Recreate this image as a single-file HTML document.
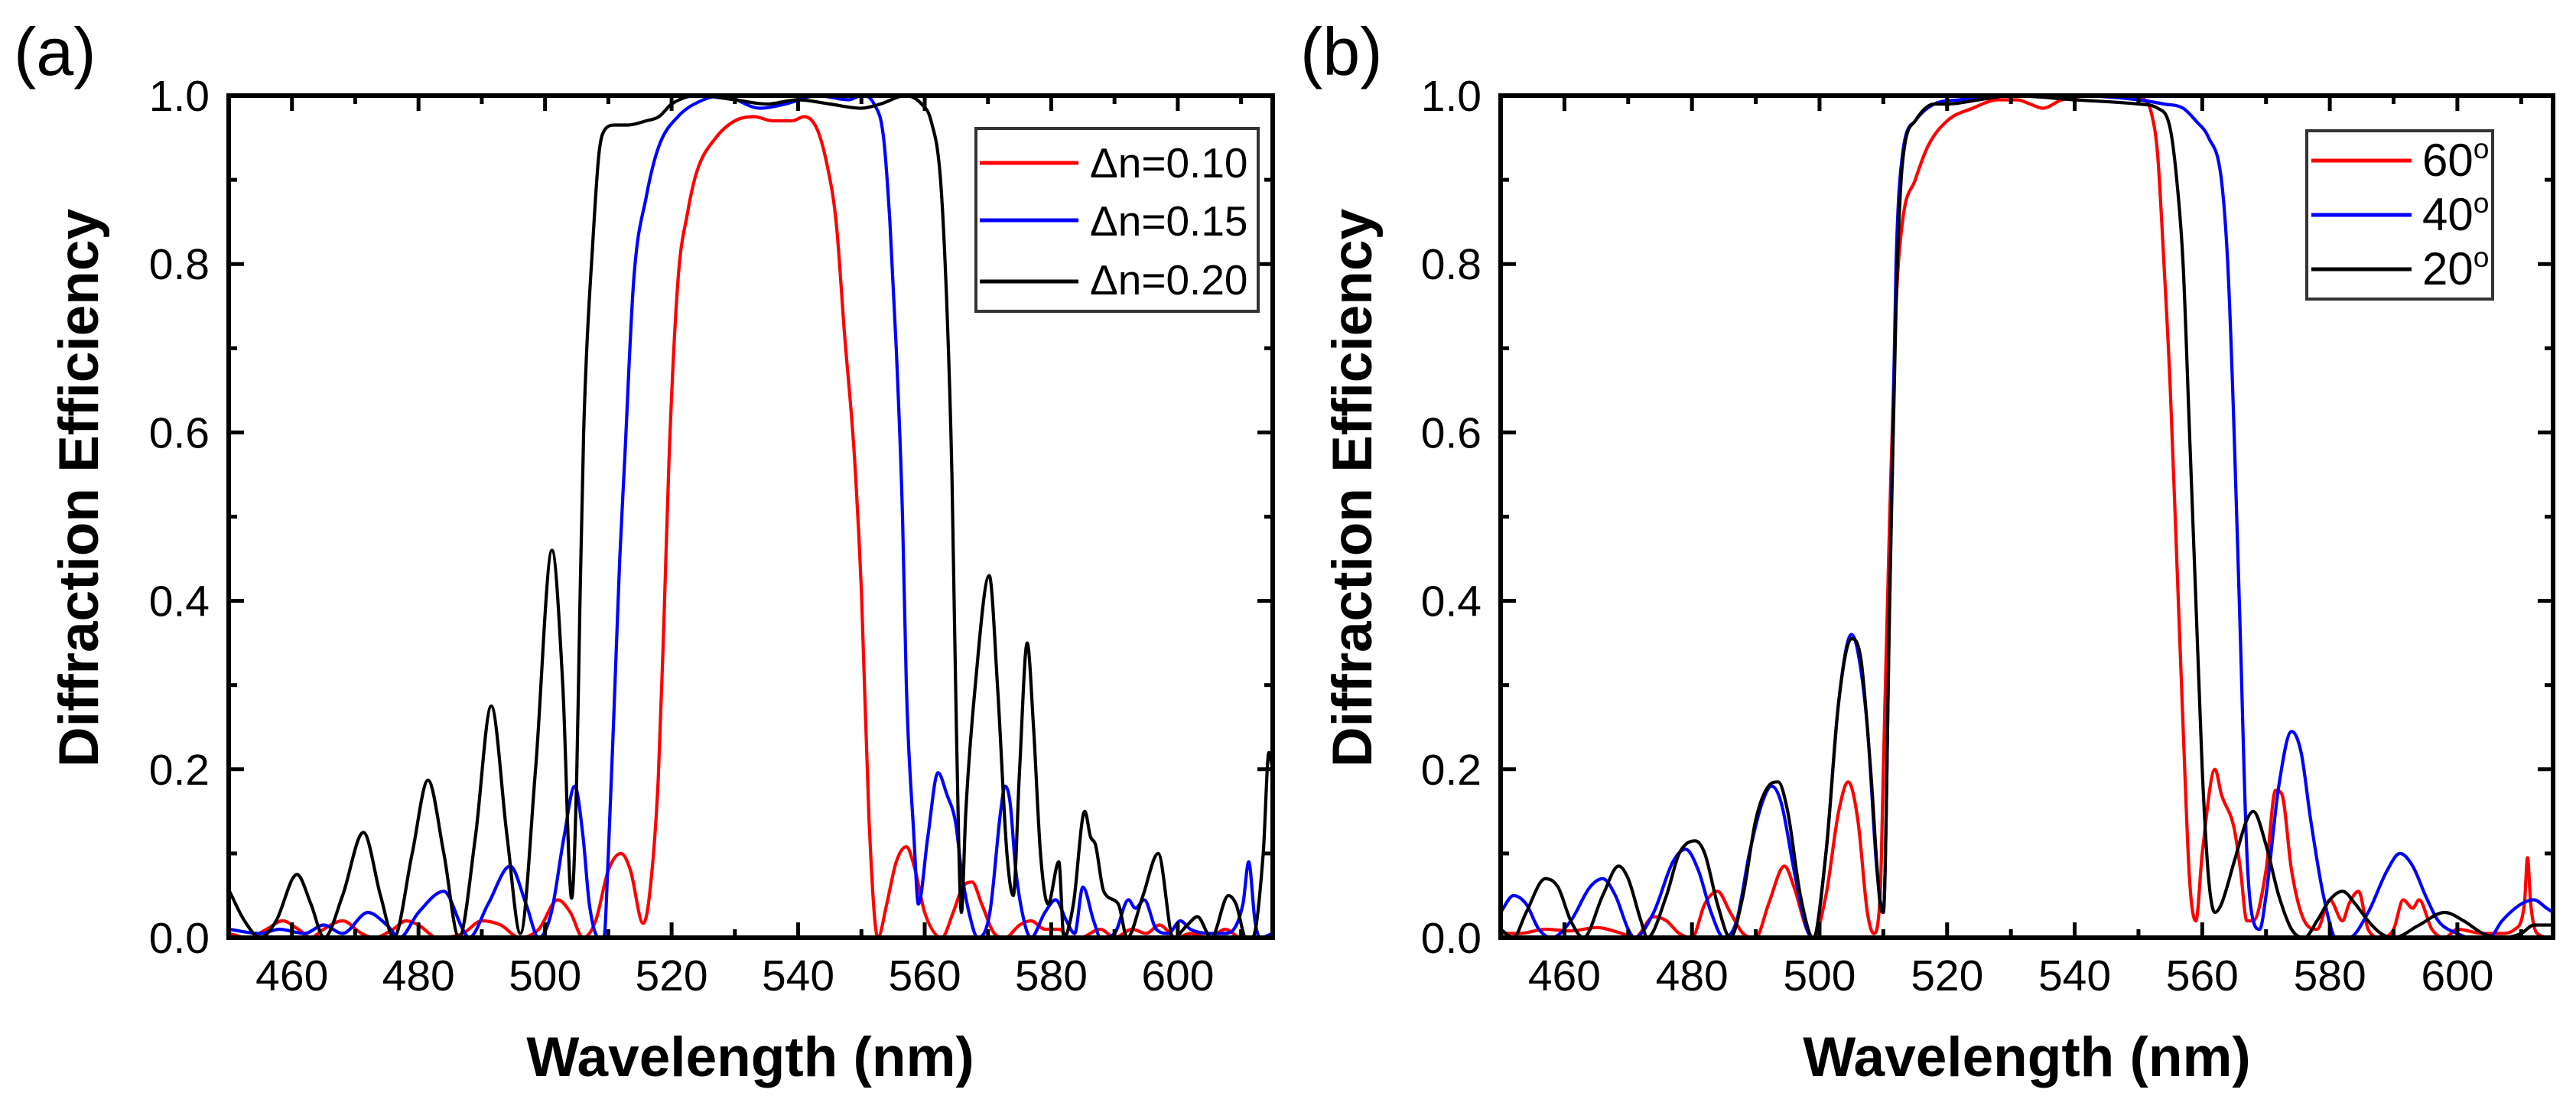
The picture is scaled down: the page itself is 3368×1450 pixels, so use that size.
<!DOCTYPE html>
<html>
<head>
<meta charset="utf-8">
<style>
  html, body { margin: 0; padding: 0; background: #fff; }
  svg { display: block; }
  text { font-family: "Liberation Sans", Arial, sans-serif; fill: #000; }
</style>
</head>
<body>
<svg id="fig" width="3368" height="1450" viewBox="0 0 3368 1450" xmlns="http://www.w3.org/2000/svg">
  <rect x="0" y="0" width="3368" height="1450" fill="#fff"/>
  <g id="panelA"></g>
  <g id="panelB"></g>
</svg>
<script>
// ---- shared axis ticks ----
const xTickValues = [460, 480, 500, 520, 540, 560, 580, 600];
const xMinorValues = [450, 470, 490, 510, 530, 550, 570, 590, 610];
const yTickValues = [0, 0.2, 0.4, 0.6, 0.8, 1.0];
const yTickLabels = ["0.0", "0.2", "0.4", "0.6", "0.8", "1.0"];
const yMinorValues = [0.1, 0.3, 0.5, 0.7, 0.9];

// ---- panel (a) data ----
const aRedX = [450,453,456,458.5,461,463,465,468,471,473,476,478,480,483,487,490,493,496,499,502,504,506,508,510,512,513.5,515.5,516.5,517.9,518.8,519.6,521,522.5,524,527,530,533,536,539,541,543,544.5,546,547.3,548.9,550,551.2,552.6,554,555.5,557.1,558.5,560,562.7,564.5,566,567.5,569,571,572.7,575,576.8,579,581.3,582.8,584.5,587.8,590,592.8,595,597.1,599.8,602,605,607.5,610,615];
const aRedY = [0.005,0.0,0.01,0.02,0.01,0.0,0.01,0.02,0.005,0.0,0.01,0.02,0.015,0.0,0.005,0.02,0.015,0.0,0.01,0.045,0.03,0.0,0.02,0.08,0.10,0.08,0.017,0.05,0.19,0.38,0.57,0.78,0.86,0.91,0.95,0.97,0.975,0.97,0.97,0.975,0.96,0.92,0.85,0.72,0.57,0.41,0.14,0.0,0.04,0.09,0.108,0.08,0.03,0.0,0.03,0.06,0.066,0.04,0.005,0.0,0.015,0.02,0.01,0.01,0.0,0.0,0.01,0.0,0.01,0.005,0.015,0.0,0.005,0.0,0.01,0.0,0.0];

const aBlueX = [450,455,458,462,465,468,472,475,477,480,484,487,488,491,494.5,497,499,501,503,504.7,506,507,508.5,509.3,510,510.9,511.8,512.6,514,516,518,521,525,528,534,538,543,548,550,552,553.5,554.5,555.5,556.5,557.1,558.3,559,560.5,562.1,563.5,564.9,565.8,567,568.4,570.3,572,572.7,573.5,574.4,575.7,576.8,579,580.7,582.4,583.7,585,586.7,587.8,590,592.2,593.3,594.7,596.6,598.5,600.4,602,605,607.5,610.3,611.2,612.2,613,615];
const aBlueY = [0.01,0.005,0.01,0.005,0.015,0.005,0.03,0.015,0.0,0.03,0.055,0.01,0.0,0.04,0.085,0.04,0.0,0.03,0.12,0.18,0.12,0.04,0.0,0.0,0.1,0.27,0.45,0.57,0.78,0.88,0.94,0.975,0.995,1.0,0.985,0.99,1.0,0.995,1.0,0.99,0.95,0.85,0.7,0.5,0.3,0.12,0.04,0.12,0.196,0.17,0.136,0.08,0.03,0.0,0.03,0.15,0.18,0.16,0.08,0.02,0.0,0.03,0.045,0.02,0.005,0.06,0.02,0.0,0.005,0.045,0.035,0.045,0.01,0.005,0.02,0.01,0.005,0.005,0.04,0.09,0.02,0.0,0.005];

const aBlackX = [450,452.5,455,457.5,460.8,463,465.1,468,471.3,474,476.1,479,481.5,484,486.4,489,491.5,494,496.1,498.5,501.1,502.8,504.2,505,505.5,506.1,506.6,507.5,508.5,509.5,511,513,516,518,520,524,530,535,540,545,550,553,557,559.5,561,562.5,563.5,564.3,565,565.8,566.5,568,570.2,571.5,573,574,575,576.2,577.2,578.3,579.5,581.2,582,583.5,585.3,586.2,587,588.3,590.6,592,594.5,596.9,599.3,601.5,603.1,605.3,608,609.2,610.8,611.8,613.5,614.4,615];
const aBlackY = [0.057,0.02,0.0,0.02,0.075,0.04,0.0,0.05,0.125,0.05,0.0,0.1,0.187,0.1,0.0,0.12,0.275,0.12,0.005,0.2,0.46,0.3,0.047,0.19,0.39,0.6,0.7,0.82,0.93,0.96,0.965,0.965,0.97,0.975,0.99,1.0,0.995,0.99,0.995,0.99,0.985,0.99,1.0,0.99,0.97,0.9,0.75,0.55,0.25,0.03,0.15,0.3,0.43,0.3,0.1,0.05,0.2,0.35,0.25,0.1,0.04,0.09,0.0,0.04,0.15,0.12,0.11,0.055,0.04,0.0,0.05,0.1,0.0,0.015,0.025,0.0,0.05,0.04,0.0,0.0,0.1,0.22,0.2];

// ---- panel (b) data ----
const bRedX = [450,453,457,461,465,469,471,474,476,478,480,482,484,486,488,490,492,494.5,496,498,499,501,503,504.5,506,507.5,508.5,509.5,510,511,512,513,515,517,520,524,528,531,533,535,538,543,548,551,552,553,554,555,556,557,558,559,560,562,563,565,566,567,568,570,571.5,572.5,574,576,578,580,582,583,584.5,586,588,590,591.5,593,594,596,598,600,604,607,609,610.5,611,611.5,612.5,615];
const bRedY = [0.005,0.005,0.01,0.008,0.012,0.005,0.0,0.025,0.02,0.005,0.0,0.04,0.055,0.03,0.005,0.0,0.04,0.085,0.06,0.01,0.0,0.05,0.15,0.185,0.14,0.03,0.005,0.05,0.2,0.5,0.75,0.85,0.9,0.94,0.97,0.985,0.995,0.995,0.99,0.985,0.995,1.0,1.0,0.995,0.98,0.93,0.8,0.65,0.45,0.25,0.07,0.02,0.1,0.2,0.17,0.13,0.08,0.02,0.02,0.08,0.175,0.17,0.08,0.02,0.01,0.045,0.02,0.04,0.055,0.01,0.0,0.01,0.045,0.035,0.045,0.01,0.0,0.01,0.005,0.005,0.01,0.04,0.095,0.04,0.005,0.0];

const bBlueX = [450,452,454,456,458,461,464,466,468,470,471,474,477,479,481,483,485,487,489,491,492.5,494,496,498,499,501,503,505,506,507.5,509,510,511,512,513,515,518,522,530,535,540,550,554,557,559,561,563,564,565,566,567,568,569,570,572,574,575.5,577,579,581,583,586,589,591,593,595,597,600,602,605,607,610,612,614,615];
const bBlueY = [0.03,0.05,0.04,0.01,0.0,0.02,0.06,0.07,0.05,0.01,0.0,0.03,0.09,0.105,0.08,0.03,0.0,0.02,0.1,0.16,0.18,0.16,0.08,0.01,0.0,0.1,0.28,0.36,0.34,0.25,0.08,0.03,0.4,0.8,0.93,0.97,0.99,0.995,1.0,1.0,1.0,0.995,0.99,0.985,0.97,0.95,0.9,0.8,0.6,0.35,0.1,0.02,0.01,0.05,0.18,0.245,0.22,0.14,0.05,0.0,0.0,0.03,0.08,0.1,0.085,0.05,0.02,0.005,0.0,0.0,0.02,0.04,0.045,0.035,0.03];

const bBlackX = [450,452,454,457,459,461,463,466,468.5,470,472,473,476,478,480.5,482,484,486,488,490,492,493.5,495,497,499,501,503,505,506.5,508,509.5,510,511,512,513,515,518,520,525,530,540,550,553,555,556,557,558,559,560,561,562,563,565,567,568,570,572,574,576,578,580,582,584,586,588,590,594,598,601,604,607,610,612,615];
const bBlackY = [0.01,0.0,0.03,0.07,0.06,0.02,0.0,0.05,0.085,0.07,0.02,0.0,0.05,0.1,0.115,0.1,0.04,0.0,0.05,0.14,0.18,0.185,0.15,0.05,0.0,0.1,0.28,0.355,0.33,0.2,0.04,0.03,0.4,0.75,0.92,0.97,0.99,0.99,0.995,1.0,0.995,0.99,0.985,0.96,0.9,0.8,0.6,0.4,0.2,0.07,0.03,0.04,0.09,0.14,0.15,0.11,0.05,0.01,0.0,0.02,0.045,0.055,0.04,0.02,0.005,0.0,0.015,0.03,0.02,0.005,0.0,0.005,0.015,0.015];

const NS = "http://www.w3.org/2000/svg";
function mk(parent, tag, attrs) {
  const e = document.createElementNS(NS, tag);
  for (const k in attrs) e.setAttribute(k, attrs[k]);
  parent.appendChild(e);
  return e;
}

// monotone cubic (Fritsch-Carlson) path through pixel points
function monotonePath(px, py) {
  const n = px.length;
  if (n < 2) return "";
  const d = [], m = new Array(n);
  for (let i = 0; i < n - 1; i++) d.push((py[i + 1] - py[i]) / (px[i + 1] - px[i]));
  m[0] = d[0]; m[n - 1] = d[n - 2];
  for (let i = 1; i < n - 1; i++) {
    if (d[i - 1] * d[i] <= 0) m[i] = 0;
    else m[i] = (d[i - 1] + d[i]) / 2;
  }
  for (let i = 0; i < n - 1; i++) {
    if (d[i] === 0) { m[i] = 0; m[i + 1] = 0; continue; }
    const a = m[i] / d[i], b = m[i + 1] / d[i], s = a * a + b * b;
    if (s > 9) { const t = 3 / Math.sqrt(s); m[i] = t * a * d[i]; m[i + 1] = t * b * d[i]; }
  }
  let path = "M" + px[0].toFixed(1) + "," + py[0].toFixed(1);
  for (let i = 0; i < n - 1; i++) {
    const h = (px[i + 1] - px[i]) / 3;
    path += "C" + (px[i] + h).toFixed(1) + "," + (py[i] + m[i] * h).toFixed(1) + " " +
      (px[i + 1] - h).toFixed(1) + "," + (py[i + 1] - m[i + 1] * h).toFixed(1) + " " +
      px[i + 1].toFixed(1) + "," + py[i + 1].toFixed(1);
  }
  return path;
}

function drawPanel(g, cfg) {
  const L = cfg.left, R = cfg.right, T = cfg.top, B = cfg.bottom;
  const xMin = 450, xMax = 615;
  const sx = v => L + (v - xMin) / (xMax - xMin) * (R - L);
  const sy = v => B - v * (B - T);

  const cp = mk(g, "clipPath", {id: cfg.id + "-clip"});
  mk(cp, "rect", {x: L, y: T - 4, width: R - L, height: B - T + 4});

  cfg.series.forEach(s => {
    const px = s.x.map(sx), py = s.y.map(sy);
    const p = mk(g, "path", {d: monotonePath(px, py), fill: "none", stroke: s.color, "stroke-width": 4.2, "stroke-linejoin": "round", "clip-path": "url(#" + cfg.id + "-clip)"});
    
    
  });

  const fr = mk(g, "rect", {x: L, y: T, width: R - L, height: B - T, fill: "none", stroke: "#000", "stroke-width": 6});
  
  

  const ticks = mk(g, "g", {stroke: "#000", "stroke-width": 5});
  
  
  xTickValues.forEach(v => {
    const x = sx(v);
    mk(ticks, "line", {x1: x, y1: B, x2: x, y2: B - 20});
    mk(ticks, "line", {x1: x, y1: T, x2: x, y2: T + 20});
  });
  xMinorValues.forEach(v => {
    const x = sx(v);
    mk(ticks, "line", {x1: x, y1: B, x2: x, y2: B - 11});
    mk(ticks, "line", {x1: x, y1: T, x2: x, y2: T + 11});
  });
  yTickValues.forEach(v => {
    const y = sy(v);
    mk(ticks, "line", {x1: L, y1: y, x2: L + 20, y2: y});
    mk(ticks, "line", {x1: R, y1: y, x2: R - 20, y2: y});
  });
  yMinorValues.forEach(v => {
    const y = sy(v);
    mk(ticks, "line", {x1: L, y1: y, x2: L + 11, y2: y});
    mk(ticks, "line", {x1: R, y1: y, x2: R - 11, y2: y});
  });

  xTickValues.forEach(v => {
    const t = mk(g, "text", {x: sx(v), y: B + 69, "font-size": 57, "text-anchor": "middle"});
    t.textContent = String(v);
    
    
  });
  yTickValues.forEach((v, i) => {
    const t = mk(g, "text", {x: L - 25, y: sy(v) + 20, "font-size": 57, "text-anchor": "end"});
    t.textContent = yTickLabels[i];
    
    
  });

  const xt = mk(g, "text", {x: cfg.xTitleX, y: 1407, "font-size": 73, "font-weight": "bold", "text-anchor": "middle"});
  xt.textContent = "Wavelength (nm)";
  
  
  const yt = mk(g, "text", {x: 0, y: 0, "font-size": 73, "font-weight": "bold", "text-anchor": "middle", transform: "translate(" + cfg.yTitleX + "," + 638 + ") rotate(-90)"});
  yt.textContent = "Diffraction Efficiency";
  
  

  const pl = mk(g, "text", {x: cfg.labelX, y: 98, "font-size": 88});
  pl.textContent = cfg.label;
  
  

  const lg = cfg.legend;
  const lgG = mk(g, "g", {});
  
  
  mk(lgG, "rect", {x: lg.x, y: lg.y, width: lg.w, height: lg.h, fill: "#fff", stroke: "#333", "stroke-width": 4});
  cfg.series.forEach((s, i) => {
    const e = mk(lgG, "g", {});
    
    
    mk(e, "line", {x1: lg.lx1, x2: lg.lx2, y1: lg.rows[i], y2: lg.rows[i], stroke: s.color, "stroke-width": 5});
    const t = mk(e, "text", {x: lg.tx, y: lg.base[i], "font-size": lg.fs});
    t.textContent = s.label;
    if (s.sup) {
      const sp = mk(t, "tspan", {"font-size": lg.fs * 0.62, dy: -lg.fs * 0.38});
      sp.textContent = s.sup;
    }
  });
}

drawPanel(document.getElementById("panelA"), {
  id: "pa", left: 299, right: 1664, top: 125, bottom: 1226,
  xTitleX: 981, yTitleX: 128, labelX: 18, label: "(a)",
  legend: {x: 1276, y: 168, w: 369, h: 239, lx1: 1281, lx2: 1410, tx: 1425, rows: [213, 288, 368], base: [232, 308, 385], fs: 55},
  series: [
    {name: "series-dn-0.10", label: "\u0394n=0.10", color: "#ff0000", x: aRedX, y: aRedY},
    {name: "series-dn-0.15", label: "\u0394n=0.15", color: "#0000ff", x: aBlueX, y: aBlueY},
    {name: "series-dn-0.20", label: "\u0394n=0.20", color: "#000000", x: aBlackX, y: aBlackY}
  ]
});

drawPanel(document.getElementById("panelB"), {
  id: "pb", left: 1962, right: 3338, top: 125, bottom: 1226,
  xTitleX: 2650, yTitleX: 1793, labelX: 1700, label: "(b)",
  legend: {x: 3016, y: 171, w: 243, h: 220, lx1: 3022, lx2: 3153, tx: 3167, rows: [210, 281, 352], base: [230, 301, 372], fs: 60},
  series: [
    {name: "series-60deg", label: "60", sup: "o", color: "#ff0000", x: bRedX, y: bRedY},
    {name: "series-40deg", label: "40", sup: "o", color: "#0000ff", x: bBlueX, y: bBlueY},
    {name: "series-20deg", label: "20", sup: "o", color: "#000000", x: bBlackX, y: bBlackY}
  ]
});
</script>
</body>
</html>
